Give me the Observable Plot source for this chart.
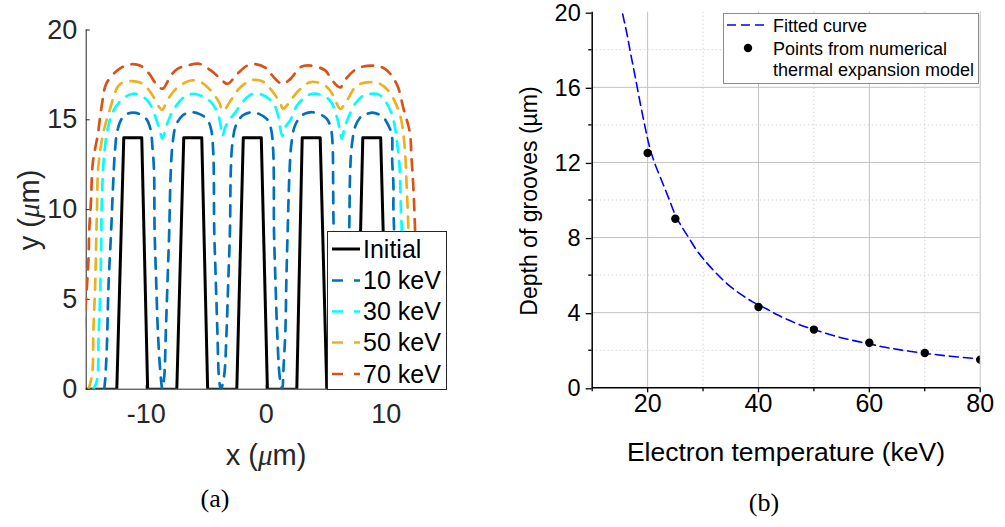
<!DOCTYPE html>
<html><head><meta charset="utf-8">
<script src="https://cdn.jsdelivr.net/npm/d3@7"></script>
<script src="https://cdn.jsdelivr.net/npm/@observablehq/plot@0.6"></script>
<style>
html,body{margin:0;padding:0;background:#fff;}
#root{position:relative;width:1005px;height:527px;overflow:hidden;background:#fff;font-family:'Liberation Sans',Arial,Helvetica,sans-serif;}
.pan{position:absolute;top:0;}
.lbl{position:absolute;white-space:nowrap;line-height:1;transform:translate(-50%,-50%);}
.vlbl{position:absolute;white-space:nowrap;line-height:1;transform:translate(-50%,-50%) rotate(-90deg);}
.ser{font-family:'Liberation Serif','DejaVu Serif',serif;}
.mu{font-family:'Liberation Serif','DejaVu Serif',serif;font-style:italic;}
.leg{position:absolute;}
</style></head>
<body><div id="root">
<div id="pa" class="pan" style="left:0px"></div>
<div id="pb" class="pan" style="left:500px"></div>
<div class="vlbl" style="left:29px;top:210px;font-size:29px;color:#262626">y (<span class="mu">μ</span>m)</div>
<div class="lbl" style="left:266px;top:455px;font-size:29px;color:#262626">x (<span class="mu">μ</span>m)</div>
<div class="lbl ser" style="left:215px;top:499px;font-size:26px;color:#000">(a)</div>
<div class="vlbl" style="left:529px;top:201px;font-size:23px;color:#000">Depth of grooves (µm)</div>
<div class="lbl" style="left:786px;top:452px;font-size:26.5px;color:#000">Electron temperature (keV)</div>
<div class="lbl ser" style="left:764px;top:503px;font-size:26px;color:#000">(b)</div>
<div id="lega" class="leg" style="left:327px;top:231px"></div>
<div id="legb" class="leg" style="left:723px;top:13px"></div>
</div>
<script>
// ---------- Panel (a) data: groove profiles ----------
const seriesNames = ["Initial", "10 keV", "30 keV", "50 keV", "70 keV"];
const seriesColors = ["#000000", "#0072BD", "#00FFFF", "#EDB120", "#D95319"];

const initialX = [-15, -12.45, -11.87, -10.37, -9.88, -7.45, -6.87, -5.37, -4.88, -2.45, -1.91, -0.41, 0.1, 2.55, 3.0, 4.5, 5.05, 7.55, 8.05, 9.54, 10.1, 12.5];
const initialY = [0, 0, 14, 14, 0, 0, 14, 14, 0, 0, 14, 14, 0, 0, 14, 14, 0, 0, 14, 14, 0, 0];

const kev10X = [-13.5,-13.42,-13.28,-13.14,-12.92,-12.75,-12.6,-12.4,-12.0,-11.5,-11.1,-10.6,-10.0,-9.65,-9.47,-9.35,-9.3,-9.17,-9.03,-8.83,-8.65,-8.5,-8.36,-8.22,-8.08,-7.95,-7.8,-7.53,-6.97,-6.42,-6.1,-5.59,-4.95,-4.6,-4.42,-4.37,-4.33,-4.2,-4.07,-3.93,-3.78,-3.52,-3.3,-3.16,-3.02,-2.95,-2.82,-2.53,-1.97,-1.42,-1.1,-0.6,0.05,0.4,0.58,0.63,0.65,0.77,0.91,1.13,1.33,1.46,1.6,1.68,1.79,1.95,2.1,2.4,2.97,3.5,3.85,4.4,5.05,5.4,5.55,5.57,5.62,5.75,5.9,6.1,6.3,6.48,6.65,6.8,6.92,7.0,7.15,7.45,8.0,8.4,8.85,9.4,9.76,10.17,10.46,10.5,10.6,10.6,10.65,10.75,10.85,10.95];
const kev10Y = [0,0.5,2.34,5.77,8.83,11.5,13.3,14.4,15.1,15.35,15.4,15.33,15.05,14.5,13.4,12.2,8.83,6.05,3.27,1.04,0,0.67,3.27,6.05,8.83,12.2,13.66,14.68,15.24,15.4,15.42,15.33,15.05,14.5,13.3,12.2,8.83,6.05,3.27,0.6,0,0.67,3.27,6.05,8.83,12.2,13.66,14.68,15.24,15.4,15.42,15.33,15.05,14.5,13.3,12.2,8.83,6.05,3.27,0.67,0,1.4,3.27,6.05,8.83,12.2,13.66,14.68,15.24,15.4,15.42,15.33,15.05,14.5,13.3,12.2,8.83,6.05,3.27,0.67,0,0.67,3.27,6.05,8.83,12.2,13.66,14.68,15.24,15.33,15.4,15.3,15.15,14.7,14.2,12.7,11.4,10.1,9.0,6.0,3.0,0];

const kev30X = [-14.4,-14.1,-13.97,-13.83,-13.75,-13.7,-13.47,-13.1,-12.65,-11.95,-11.1,-10.3,-9.7,-9.2,-8.9,-8.65,-8.35,-8.0,-7.6,-6.84,-6.1,-5.3,-4.62,-4.07,-3.8,-3.65,-3.4,-3.1,-2.69,-1.86,-1.1,-0.2,0.63,1.0,1.33,1.6,2.02,2.57,3.4,3.9,4.5,5.33,5.89,6.15,6.3,6.55,6.86,7.41,8.1,8.8,9.4,9.9,10.46,10.75,10.95,11.1,11.18,11.23,11.29,11.4,11.5,11.6];
const kev30Y = [0,0.5,2.9,5.5,8.1,10.5,13.3,14.8,15.6,16.17,16.45,16.3,15.9,15.1,14.5,13.95,14.6,15.2,15.7,16.26,16.45,16.3,16.0,15.42,14.7,14.1,14.6,15.0,15.3,16.07,16.45,16.35,15.89,15.2,14.1,14.6,15.0,15.8,16.35,16.45,16.4,16.07,15.15,14.4,13.95,14.6,15.15,15.89,16.35,16.45,16.4,16.07,15.33,14.5,13.5,12.5,11.25,9.95,9.0,5.0,2.0,0];

const kev50X = [-14.8,-14.5,-14.4,-14.25,-14.16,-14.1,-14.0,-13.6,-13.06,-12.23,-11.26,-10.29,-9.56,-8.91,-8.7,-8.5,-8.08,-7.39,-6.28,-5.45,-4.62,-3.93,-3.6,-2.96,-2.27,-1.3,-0.33,0.5,1.19,1.4,2.02,2.71,3.68,4.65,5.33,5.89,6.17,6.72,7.55,8.66,9.49,10.17,10.8,11.25,11.56,11.7,11.84,11.95,12.05,12.1];
const kev50Y = [0,0.86,3.27,5.87,8.46,10.0,12.3,14.2,15.5,16.95,17.15,17.0,16.45,15.7,15.55,15.7,16.26,16.8,17.19,17.1,16.63,15.98,15.5,16.07,16.73,17.19,17.15,16.6,15.89,15.6,16.07,16.63,17.1,17.0,16.63,15.89,15.6,16.07,16.9,17.1,17.0,16.63,15.9,15.0,13.3,11.4,9.0,5.0,2.0,0];

const kev70X = [-15.4,-15.2,-15.0,-14.8,-14.75,-14.6,-14.45,-14.03,-13.7,-13.33,-12.4,-11.4,-10.43,-9.74,-9.18,-8.63,-7.94,-7.39,-6.56,-5.59,-4.62,-3.79,-3.24,-2.41,-1.58,-0.89,0.08,0.5,1.33,2.02,2.85,3.68,4.92,5.33,5.89,6.2,6.44,7.55,8.93,9.9,10.87,11.45,11.97,12.1,12.25,12.4,12.55,12.65,12.7];
const kev70Y = [0,3,5.1,7.4,8.8,10.5,12.6,14.2,15.8,17.0,17.75,18.08,18.0,17.56,17.0,16.73,17.47,17.84,18.02,18.12,17.75,17.28,17.0,17.56,18.02,18.1,17.84,17.47,17.0,17.28,17.93,18.02,17.75,17.37,16.9,16.8,17.1,17.84,18.02,17.84,17.0,15.6,14.3,13.0,11.4,9.0,5.0,2.0,0];

const xTicksA = [-10, 0, 10];
const yTicksA = [0, 5, 10, 15, 20];

// ---------- Panel (b) data ----------
const tempPoints = [20, 25, 40, 50, 60, 70, 80];
const depthPoints = [12.5, 9.0, 4.3, 3.1, 2.4, 1.85, 1.5];
const fitTemp = [15.5,16.3,17.0,17.8,18.7,19.6,20.2,21.1,22.3,23.8,25.0,26.2,27.4,28.9,30.1,31.9,34.3,36.7,39.1,41.5,43.3,47.5,50.0,53.5,56.5,60.0,62.6,65.6,70.0,74.6,80.0];
const fitDepth = [19.9,18.8,17.7,16.5,15.1,13.8,13.0,12.1,11.2,10.1,9.2,8.55,8.0,7.3,6.85,6.25,5.55,5.0,4.55,4.2,3.9,3.35,3.1,2.78,2.56,2.34,2.17,2.02,1.84,1.68,1.54];
const xMajorB = [20, 40, 60, 80];
const xMinorB = [10, 30, 50, 70];
const yMajorB = [0, 4, 8, 12, 16, 20];
const yMinorB = [2, 6, 10, 14, 18];
const legendB = ["Fitted curve", "Points from numerical", "thermal expansion model"];

// ---------- build tables ----------
const toRows = (xs, ys) => d3.zip(xs, ys).map(([x, y]) => ({x, y}));
const profiles = [
  toRows(initialX, initialY),
  toRows(kev10X, kev10Y),
  toRows(kev30X, kev30Y),
  toRows(kev50X, kev50Y),
  toRows(kev70X, kev70Y)
];
const axisA = "#262626";
const fontSans = "'Liberation Sans', Arial, Helvetica, sans-serif";

const lineMarks = profiles.map((rows, i) => i === 0
  ? Plot.line(rows, {x: "x", y: "y", stroke: seriesColors[i], strokeWidth: 3, clip: true})
  : Plot.line(rows, {x: "x", y: "y", stroke: seriesColors[i], strokeWidth: 2.7, strokeDasharray: "11,9", curve: "catmull-rom", clip: true}));

const chartA = Plot.plot({
  width: 460, height: 480,
  marginLeft: 85.7, marginRight: 14.3, marginTop: 29.5, marginBottom: 91.3,
  x: {domain: [-15, 15]},
  y: {domain: [0, 20]},
  style: {fontFamily: fontSans, color: axisA, background: "transparent", overflow: "visible"},
  marks: [
    Plot.ruleX([-15], {stroke: axisA, strokeWidth: 1}),
    Plot.ruleY([0], {stroke: axisA, strokeWidth: 1}),
    Plot.ruleX(xTicksA, {y1: 0, y2: 0.22, stroke: axisA}),
    Plot.ruleY(yTicksA, {x1: -15, x2: -14.66, stroke: axisA}),
    ...lineMarks,
    Plot.axisX(xTicksA, {tickSize: 0, tickPadding: 14.5, fontSize: 27, label: null, tickFormat: d => String(d), fill: axisA}),
    Plot.axisY(yTicksA, {tickSize: 0, tickPadding: 9, fontSize: 27, label: null, tickFormat: d => String(d), fill: axisA})
  ]
});
document.getElementById("pa").appendChild(chartA);

const fitRows = toRows(fitTemp, fitDepth);
const ptRows = toRows(tempPoints, depthPoints);
const chartB = Plot.plot({
  width: 505, height: 430,
  marginLeft: 91.7, marginRight: 25.3, marginTop: 11.7, marginBottom: 42.7,
  x: {domain: [10, 80]},
  y: {domain: [0, 20]},
  style: {fontFamily: fontSans, color: "#000", background: "transparent", overflow: "visible"},
  marks: [
    Plot.ruleX(xMinorB.slice(1), {stroke: "#d4d4d4", strokeDasharray: "1.5,2.5"}),
    Plot.ruleY(yMinorB, {stroke: "#d4d4d4", strokeDasharray: "1.5,2.5"}),
    Plot.ruleX(xMajorB, {stroke: "#c2c2c2"}),
    Plot.ruleY(yMajorB.slice(1, -1), {stroke: "#c2c2c2"}),
    Plot.line(fitRows, {x: "x", y: "y", stroke: "#0000ff", strokeWidth: 1.6, strokeDasharray: "9,5", curve: "catmull-rom", clip: true}),
    Plot.dot(ptRows, {x: "x", y: "y", r: 4.2, fill: "#000", stroke: null, clip: true}),
    Plot.ruleX([10], {stroke: "#000", strokeWidth: 1.5}),
    Plot.ruleY([0], {stroke: "#000", strokeWidth: 1.5}),
    Plot.axisX(xMajorB, {tickSize: 5, tickPadding: 1, fontSize: 25, label: null, strokeWidth: 1.3}),
    Plot.axisX(xMinorB, {tickSize: 4, tickFormat: () => "", label: null, strokeWidth: 1.3}),
    Plot.axisY(yMajorB, {tickSize: 6, tickPadding: 5.5, fontSize: 23.5, dy: 1, label: null, strokeWidth: 1.3}),
    Plot.axisY(yMinorB, {tickSize: 3.5, tickFormat: () => "", label: null, strokeWidth: 1.3})
  ]
});
document.getElementById("pb").appendChild(chartB);

// ---------- legends ----------
(function () {
  const w = 120, h = 159, rowY = [18, 49.5, 80.5, 111.5, 143];
  let s = `<svg width="${w}" height="${h}" style="display:block"><rect x="0.5" y="0.5" width="${w - 1}" height="${h - 1}" fill="#fff" stroke="${axisA}" stroke-width="1"/>`;
  seriesNames.forEach((name, i) => {
    const dash = i === 0 ? "" : ` stroke-dasharray="11,11"`;
    s += `<line x1="5" x2="33" y1="${rowY[i]}" y2="${rowY[i]}" stroke="${seriesColors[i]}" stroke-width="${i === 0 ? 3 : 2.7}"${dash}/>`;
    s += `<text x="36" y="${rowY[i]}" dy="0.35em" font-size="25" fill="#000" font-family="${fontSans}">${name}</text>`;
  });
  s += `</svg>`;
  document.getElementById("lega").innerHTML = s;
})();
(function () {
  const w = 256, h = 71;
  let s = `<svg width="${w}" height="${h}" style="display:block"><rect x="0.5" y="0.5" width="${w - 1}" height="${h - 1}" fill="#fff" stroke="#8c8c8c" stroke-width="1"/>`;
  s += `<line x1="4" x2="41" y1="12" y2="12" stroke="#0000ff" stroke-width="1.6" stroke-dasharray="9,5"/>`;
  s += `<circle cx="25" cy="35" r="4.2" fill="#000"/>`;
  const ys = [12.5, 35.5, 57];
  legendB.forEach((t, i) => {
    s += `<text x="50" y="${ys[i]}" dy="0.35em" font-size="18" fill="#000" font-family="${fontSans}">${t}</text>`;
  });
  s += `</svg>`;
  document.getElementById("legb").innerHTML = s;
})();
</script>
</body></html>
